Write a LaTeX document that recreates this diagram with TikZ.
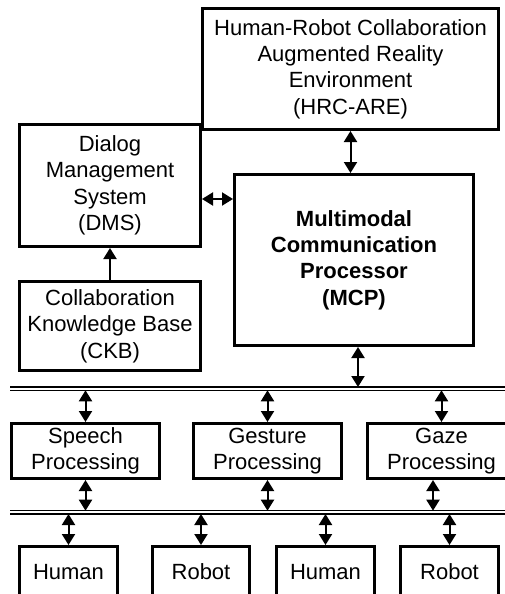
\documentclass[tikz,border=0pt]{standalone}
\usepackage{fontspec}
\setmainfont{Liberation Sans}
\usetikzlibrary{arrows.meta}
\begin{document}
\begin{tikzpicture}[x=1pt,y=-1pt,
  box/.style={draw, line width=3pt, align=center, inner sep=0pt,
    font=\fontsize{22}{26.4}\selectfont},
  agent/.style={box, minimum height=50pt, text height=16pt, text depth=0pt},
  tipa/.tip={Triangle[length=11pt,width=13pt]},
  arr/.style={line width=2pt, tipa-tipa},
  uarr/.style={line width=2pt, -tipa},
  bus/.style={line width=1.3pt}]
\useasboundingbox (0,0) rectangle (505,594);
\clip (0,0) rectangle (505,594);

% upper boxes
\node[box, minimum width=296pt, minimum height=121pt] (hrc) at (350.5,69)
  {Human-Robot Collaboration\\Augmented Reality\\Environment\\(HRC-ARE)};
\node[box, minimum width=181pt, minimum height=122pt] (dms) at (110,185.5)
  {Dialog\\Management\\System\\(DMS)};
\node[box, minimum width=239pt, minimum height=171pt, font=\fontsize{22}{26.4}\selectfont\bfseries] (mcp) at (354,260)
  {Multimodal\\Communication\\Processor\\(MCP)};
\node[box, minimum width=181pt, minimum height=89pt] (ckb) at (110,326)
  {Collaboration\\Knowledge Base\\(CKB)};

% processing boxes
\node[box, minimum width=148pt, minimum height=55pt] (speech) at (85.5,451) {Speech\\Processing};
\node[box, minimum width=148pt, minimum height=55pt] (gesture) at (267.5,451) {Gesture\\Processing};
\node[box, minimum width=148pt, minimum height=55pt] (gaze) at (441.5,451) {Gaze\\Processing};

% bottom boxes
\node[agent, minimum width=98pt] (h1) at (68.5,571.5) {Human};
\node[agent, minimum width=97pt] (r1) at (201,571.5) {Robot};
\node[agent, minimum width=98pt] (h2) at (325.5,571.5) {Human};
\node[agent, minimum width=98pt] (r2) at (449.5,571.5) {Robot};

% buses
\coordinate (b1aL) at (10,387);   \coordinate (b1aR) at (510,387);
\coordinate (b1bL) at (10,390.3); \coordinate (b1bR) at (510,390.3);
\coordinate (b2aL) at (10,510.7); \coordinate (b2aR) at (510,510.7);
\coordinate (b2bL) at (10,514);   \coordinate (b2bR) at (510,514);
\draw[bus] (b1aL) -- (b1aR);
\draw[bus] (b1bL) -- (b1bR);
\draw[bus] (b2aL) -- (b2aR);
\draw[bus] (b2bL) -- (b2bR);

% upper connectors
\draw[arr] (hrc.south) -- (hrc.south |- mcp.north);
\draw[arr] (dms.east |- 0,199) -- (mcp.west |- 0,199);
\draw[uarr] (ckb.north) -- (dms.south);
\draw[arr] (mcp.south -| 358,0) -- (358,0 |- b1aL);

% bus 1 to processing
\draw[arr] (speech.north |- b1bL) -- (speech.north);
\draw[arr] (gesture.north |- b1bL) -- (gesture.north);
\draw[arr] (gaze.north |- b1bL) -- (gaze.north);

% processing to bus 2
\draw[arr] (speech.south) -- (speech.south |- b2aL);
\draw[arr] (gesture.south) -- (gesture.south |- b2aL);
\draw[arr] (gaze.south -| 433,0) -- (433,0 |- b2aL);

% bus 2 to agents
\draw[arr] (h1.north |- b2bL) -- (h1.north);
\draw[arr] (r1.north |- b2bL) -- (r1.north);
\draw[arr] (h2.north |- b2bL) -- (h2.north);
\draw[arr] (r2.north |- b2bL) -- (r2.north);
\end{tikzpicture}
\end{document}
